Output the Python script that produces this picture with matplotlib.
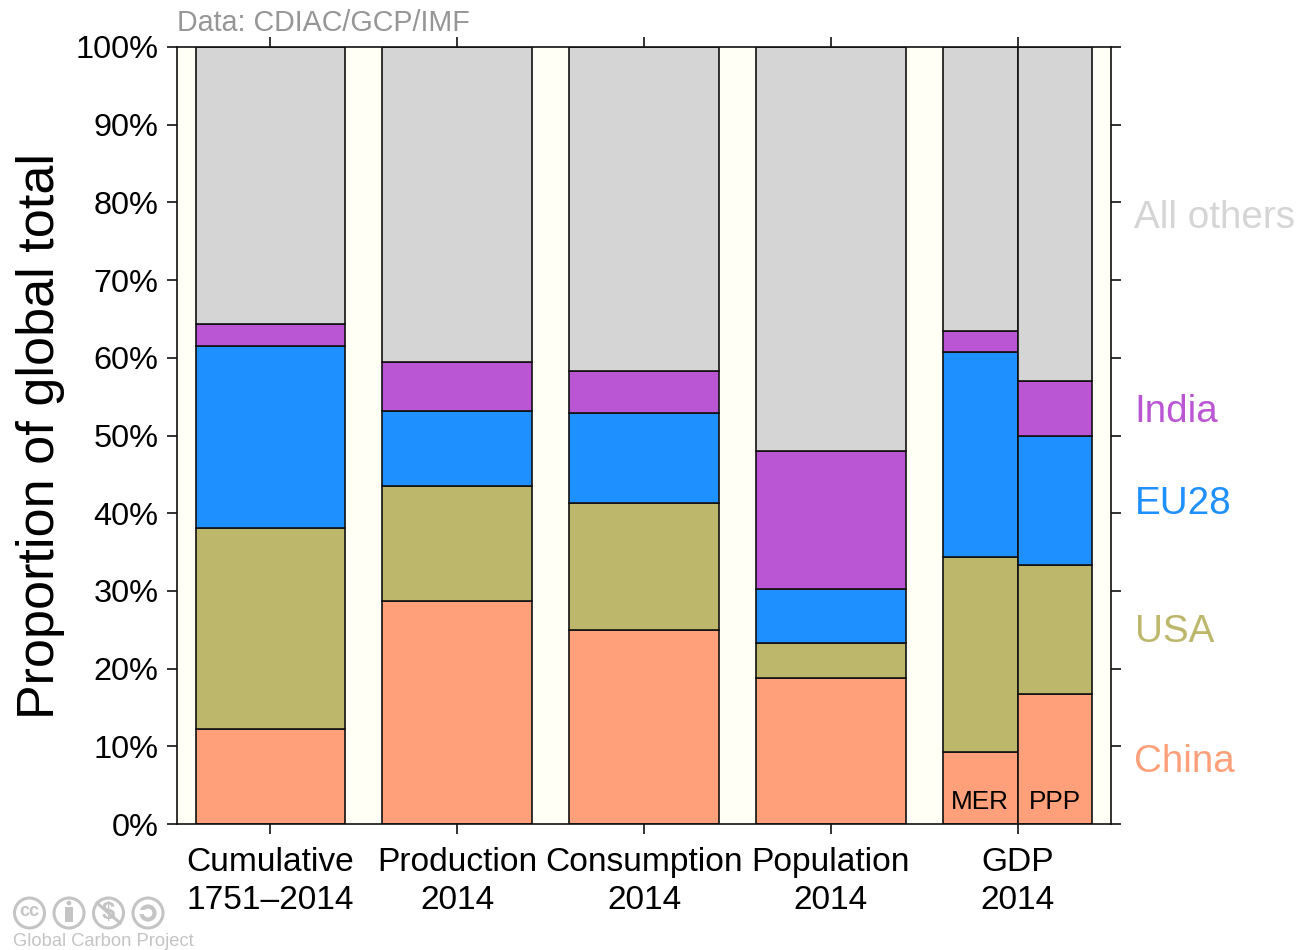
import matplotlib
matplotlib.use("Agg")
import matplotlib.pyplot as plt
from matplotlib.patches import Circle
from matplotlib.lines import Line2D

plt.rcParams['font.family'] = ['Liberation Sans', 'DejaVu Sans']

series_names = ['China', 'USA', 'EU28', 'India', 'All others']
series_colors = ['#FFA07A', '#BDB76B', '#1E90FF', '#BA55D3', '#D5D5D5']
group_labels = ['Cumulative\n1751–2014', 'Production\n2014', 'Consumption\n2014',
                'Population\n2014', 'GDP\n2014']
y_ticks = [0, 10, 20, 30, 40, 50, 60, 70, 80, 90, 100]

# cumulative top of each stacked segment (percent)
cumulative = [12.2, 38.1, 61.5, 64.3, 100]
production = [28.7, 43.5, 53.2, 59.5, 100]
consumption = [25.0, 41.3, 52.9, 58.3, 100]
population = [18.8, 23.3, 30.2, 48.0, 100]
gdp_mer = [9.3, 34.4, 60.8, 63.5, 100]
gdp_ppp = [16.7, 33.3, 50.0, 57.0, 100]

label_y = [8.0, 24.7, 41.2, 53.0, 78.0]

W, H = 1298, 950
fig = plt.figure(figsize=(W / 100, H / 100), dpi=100, facecolor='white')
ax = fig.add_axes([177 / W, 1 - 824 / H, (1111 - 177) / W, (824 - 47) / H])
ax.set_facecolor('#FFFFF5')
ax.set_xlim(0.5, 5.5)
ax.set_ylim(0, 100)


def stack(x, tops, width):
    bottom = 0
    for top, color in zip(tops, series_colors):
        ax.bar(x, top - bottom, width=width, bottom=bottom, color=color,
               edgecolor='#111111', linewidth=1.2, zorder=2)
        bottom = top


stack(1, cumulative, 0.8)
stack(2, production, 0.8)
stack(3, consumption, 0.8)
stack(4, population, 0.8)
stack(4.8, gdp_mer, 0.4)
stack(5.2, gdp_ppp, 0.4)

ax.tick_params(axis='both', direction='out', length=7.2, width=1.2, color='#111111')
ax.tick_params(axis='x', top=True, bottom=True, labelsize=24.1, pad=9.5)
ax.tick_params(axis='y', left=True, right=True, labelsize=23.4, pad=6)
ax.set_xticks([1, 2, 3, 4, 5])
ax.set_xticklabels(group_labels, linespacing=1.27)
ax.set_yticks(y_ticks)
ax.set_yticklabels([f'{v}%' for v in y_ticks])
for s in ax.spines.values():
    s.set_linewidth(1.2)
    s.set_color('#111111')
    s.set_zorder(5)

ax.text(4.8, 2.8, 'MER', ha='center', va='center', fontsize=18.8, color='black', zorder=6)
ax.text(5.2, 2.8, 'PPP', ha='center', va='center', fontsize=18.8, color='black', zorder=6)

for name, col, yv in zip(series_names, series_colors, label_y):
    fig.text(1134.5 / W, 1 - (824 - yv * 7.77) / H, name, color=col, fontsize=27.8,
             ha='left', va='center')

fig.text(177 / W, 1 - 23 / H, 'Data: CDIAC/GCP/IMF', color='#969696', fontsize=20.6,
         ha='left', va='center')
fig.text(41 / W, 1 - 436 / H, 'Proportion of global total', rotation=90, fontsize=37.5,
         ha='center', va='center', color='black')

# Creative-commons style badges and attribution
ov = fig.add_axes([0, 0, 1, 1], facecolor='none')
ov.set_xlim(0, W)
ov.set_ylim(H, 0)
ov.axis('off')
grey = '#C4C4C4'
for cx, cy in [(29.5, 913), (69, 913), (108.5, 913), (148, 913)]:
    ov.add_patch(Circle((cx, cy), 15, fill=False, ec=grey, lw=2.2))
ov.text(29.5, 912, 'cc', fontsize=13, fontweight='bold', color=grey, ha='center', va='center')
ov.add_patch(Circle((69, 903), 2.4, fc=grey, ec='none'))
ov.add_patch(plt.Rectangle((65, 907), 8, 15, fc=grey, ec='none'))
ov.text(108.5, 912.5, '$', fontsize=17, fontweight='bold', color=grey, ha='center', va='center')
ov.add_line(Line2D([97, 120], [903, 923], color=grey, lw=2.2))
ov.add_patch(Circle((148, 913), 6.5, fill=False, ec=grey, lw=3))
ov.add_patch(plt.Rectangle((139, 910), 6, 3.5, fc='white', ec='none'))
ov.text(13, 941, 'Global Carbon Project', color=grey, fontsize=13.2, ha='left', va='center')

fig.savefig('out.png', dpi=100, facecolor='white')
